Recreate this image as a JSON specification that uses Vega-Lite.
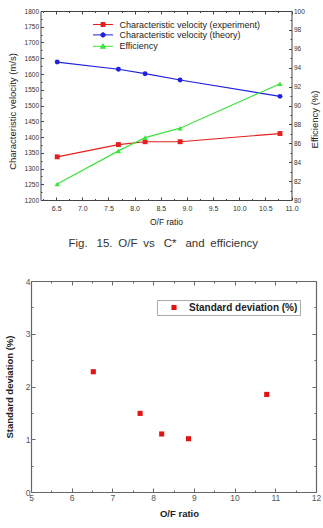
{
  "$schema": "https://vega.github.io/schema/vega-lite/v6.json",
  "background": "white",
  "padding": {"left": 4, "top": 8, "right": 0, "bottom": 0},
  "config": {
    "view": {"stroke": null},
    "font": "Liberation Sans",
    "axis": {"grid": false, "domainColor": "#444", "tickColor": "#444", "labelColor": "#333", "titleColor": "#222", "titleFontWeight": "normal", "labelOverlap": false, "labelFlush": false}
  },
  "datasets": {
    "performance": [
      {"of": 6.52, "series": "Characteristic velocity (experiment)", "value": 1337},
      {"of": 7.69, "series": "Characteristic velocity (experiment)", "value": 1376},
      {"of": 8.2, "series": "Characteristic velocity (experiment)", "value": 1385},
      {"of": 8.87, "series": "Characteristic velocity (experiment)", "value": 1385},
      {"of": 10.78, "series": "Characteristic velocity (experiment)", "value": 1411},
      {"of": 6.52, "series": "Characteristic velocity (theory)", "value": 1638},
      {"of": 7.69, "series": "Characteristic velocity (theory)", "value": 1615},
      {"of": 8.2, "series": "Characteristic velocity (theory)", "value": 1601},
      {"of": 8.87, "series": "Characteristic velocity (theory)", "value": 1581},
      {"of": 10.78, "series": "Characteristic velocity (theory)", "value": 1529},
      {"of": 6.52, "series": "Efficiency", "value": 81.7},
      {"of": 7.69, "series": "Efficiency", "value": 85.2},
      {"of": 8.2, "series": "Efficiency", "value": 86.6},
      {"of": 8.87, "series": "Efficiency", "value": 87.6},
      {"of": 10.78, "series": "Efficiency", "value": 92.3}
    ],
    "deviation": [
      {"of": 6.53, "sd": 2.28, "label": "Standard deviation (%)"},
      {"of": 7.68, "sd": 1.49, "label": "Standard deviation (%)"},
      {"of": 8.21, "sd": 1.1, "label": "Standard deviation (%)"},
      {"of": 8.87, "sd": 1.01, "label": "Standard deviation (%)"},
      {"of": 10.79, "sd": 1.85, "label": "Standard deviation (%)"}
    ]
  },
  "columns": 1,
  "spacing": 27,
  "resolve": {
    "scale": {"color": "independent", "shape": "independent"},
    "legend": {"color": "independent", "shape": "independent"}
  },
  "concat": [
    {
      "width": 260.5,
      "height": 189,
      "data": {"name": "performance"},
      "title": {
        "text": "Fig.\u2002 15.\u2002O/F\u2002vs\u2002 C*\u2002 and\u2002efficiency",
        "orient": "bottom",
        "anchor": "middle",
        "fontSize": 11.5,
        "fontWeight": "normal",
        "color": "#333",
        "offset": 12,
        "dx": 2
      },
      "layer": [
        {
          "transform": [{"filter": "datum.series !== 'Efficiency'"}],
          "encoding": {
            "x": {
              "field": "of", "type": "quantitative",
              "scale": {"domain": [6.2, 11.0], "range": [9.5, 260.5], "nice": false, "zero": false},
              "axis": {
                "orient": "bottom", "title": "O/F ratio", "titleFontSize": 8.5, "titlePadding": 5,
                "values": [6.25, 6.5, 6.75, 7, 7.25, 7.5, 7.75, 8, 8.25, 8.5, 8.75, 9, 9.25, 9.5, 9.75, 10, 10.25, 10.5, 10.75, 11],
                "labelExpr": "(datum.value * 2) % 1 ? '' : format(datum.value, '.1f')",
                "labelFontSize": 7, "labelPadding": 7,
                "tickSize": {"condition": {"test": "(datum.value * 2) % 1", "value": -1.5}, "value": -3}
              }
            },
            "y": {
              "field": "value", "type": "quantitative",
              "scale": {"domain": [1200, 1800], "nice": false, "zero": false},
              "axis": {
                "offset": -9.5,
                "title": "Characteristic velocity (m/s)", "titleFontSize": 9.5, "titlePadding": 7, "titleY": 100,
                "values": [1200, 1225, 1250, 1275, 1300, 1325, 1350, 1375, 1400, 1425, 1450, 1475, 1500, 1525, 1550, 1575, 1600, 1625, 1650, 1675, 1700, 1725, 1750, 1775, 1800],
                "labelExpr": "datum.value % 50 ? '' : format(datum.value, 'd')",
                "labelFontSize": 6.5, "labelPadding": 5,
                "tickSize": {"condition": {"test": "datum.value % 50", "value": -1.5}, "value": -3}
              }
            },
            "color": {
              "field": "series", "type": "nominal",
              "scale": {
                "domain": ["Characteristic velocity (experiment)", "Characteristic velocity (theory)", "Efficiency"],
                "range": ["#e61e1e", "#2020e0", "#3ee23e"]
              },
              "legend": {
                "orient": "none", "legendX": 67.5, "legendY": 9, "title": null,
                "padding": 0, "symbolSize": 16, "labelOffset": 12, "rowPadding": 0.4,
                "labelFontSize": 9, "labelColor": "#222",
                "encode": {
                  "symbols": {
                    "update": {
                      "shape": {"signal": "datum.value === 'Characteristic velocity (experiment)' ? 'M-5,0H5M-1,-1H1V1H-1Z' : datum.value === 'Characteristic velocity (theory)' ? 'M-5,0H5M1.1,0A1.1,1.1 0 1,1 -1.1,0A1.1,1.1 0 1,1 1.1,0Z' : 'M-5,0H5M0,-1.3L1.3,1H-1.3Z'"},
                      "fill": {"signal": "datum.value === 'Characteristic velocity (experiment)' ? '#e61e1e' : datum.value === 'Characteristic velocity (theory)' ? '#2020e0' : '#3ee23e'"},
                      "stroke": {"signal": "datum.value === 'Characteristic velocity (experiment)' ? '#e61e1e' : datum.value === 'Characteristic velocity (theory)' ? '#2020e0' : '#3ee23e'"},
                      "strokeWidth": {"value": 1},
                      "opacity": {"value": 1}
                    }
                  }
                }
              }
            }
          },
          "layer": [
            {"mark": {"type": "line", "strokeWidth": 1.2}},
            {
              "mark": {"type": "point", "filled": true, "opacity": 1, "size": 24},
              "encoding": {
                "shape": {
                  "field": "series", "type": "nominal",
                  "scale": {"domain": ["Characteristic velocity (experiment)", "Characteristic velocity (theory)"], "range": ["square", "circle"]},
                  "legend": null
                }
              }
            }
          ]
        },
        {
          "transform": [{"filter": "datum.series === 'Efficiency'"}],
          "encoding": {
            "x": {
              "field": "of", "type": "quantitative",
              "axis": {
                "orient": "top", "title": null, "labels": false,
                "values": [6.25, 6.5, 6.75, 7, 7.25, 7.5, 7.75, 8, 8.25, 8.5, 8.75, 9, 9.25, 9.5, 9.75, 10, 10.25, 10.5, 10.75, 11],
                "tickSize": {"condition": {"test": "(datum.value * 2) % 1", "value": -1.5}, "value": -3}
              }
            },
            "y": {
              "field": "value", "type": "quantitative",
              "scale": {"domain": [80, 100], "nice": false, "zero": false},
              "axis": {
                "orient": "right", "title": "Efficiency (%)", "titleFontSize": 9.5, "titleAngle": -90, "titleBaseline": "top", "titlePadding": 5, "titleY": 108,
                "values": [80, 81, 82, 83, 84, 85, 86, 87, 88, 89, 90, 91, 92, 93, 94, 95, 96, 97, 98, 99, 100],
                "labelExpr": "datum.value % 2 ? '' : format(datum.value, 'd')",
                "labelFontSize": 6.5, "labelPadding": 5,
                "tickSize": {"condition": {"test": "datum.value % 2", "value": -1.5}, "value": -3}
              }
            },
            "color": {"field": "series", "type": "nominal"}
          },
          "layer": [
            {"mark": {"type": "line", "strokeWidth": 1.2}},
            {"mark": {"type": "point", "filled": true, "opacity": 1, "size": 28, "shape": "triangle-up"}}
          ]
        }
      ],
      "resolve": {"scale": {"y": "independent"}, "axis": {"x": "independent"}}
    },
    {
      "width": 285,
      "height": 211,
      "data": {"name": "deviation"},
      "layer": [
        {
          "mark": {"type": "point", "filled": true, "opacity": 1, "size": 26, "color": "#e01414"},
          "encoding": {
            "x": {
              "field": "of", "type": "quantitative",
              "scale": {"domain": [5, 12], "nice": false, "zero": false},
              "axis": {
                "title": "O/F ratio", "titleFontSize": 9.5, "titleFontWeight": "bold", "titlePadding": 5, "titleX": 148,
                "values": [5, 5.5, 6, 6.5, 7, 7.5, 8, 8.5, 9, 9.5, 10, 10.5, 11, 11.5, 12],
                "labelExpr": "datum.value % 1 ? '' : format(datum.value, 'd')",
                "labelFontSize": 8.5, "labelColor": "#555", "labelPadding": 5,
                "domainColor": "#666", "tickColor": "#666", "domainWidth": 1.2,
                "tickSize": {"condition": {"test": "datum.value % 1", "value": -2}, "value": -4}
              }
            },
            "y": {
              "field": "sd", "type": "quantitative",
              "scale": {"domain": [0, 4], "nice": false, "zero": false},
              "axis": {
                "title": "Standard deviation (%)", "titleFontSize": 9.5, "titleFontWeight": "bold", "titlePadding": 10.5,
                "values": [0, 0.5, 1, 1.5, 2, 2.5, 3, 3.5, 4],
                "labelExpr": "datum.value % 1 ? '' : format(datum.value, 'd')",
                "labelFontSize": 8.5, "labelColor": "#555", "labelPadding": 5,
                "domainColor": "#666", "tickColor": "#666", "domainWidth": 1.2,
                "tickSize": {"condition": {"test": "datum.value % 1", "value": -2}, "value": -4}
              }
            },
            "shape": {
              "field": "label", "type": "nominal",
              "scale": {"range": ["square"]},
              "legend": {
                "orient": "none", "legendX": 126, "legendY": 19, "title": null,
                "padding": 2.5, "strokeColor": "#aaa", "fillColor": "white",
                "symbolSize": 26, "symbolOffset": 9.5, "labelOffset": 10,
                "symbolFillColor": "#e01414", "symbolStrokeWidth": 0,
                "labelFontSize": 10, "labelFontWeight": "bold", "labelColor": "#222"
              }
            }
          }
        },
        {
          "mark": {"type": "point", "opacity": 0},
          "encoding": {
            "x": {
              "field": "of", "type": "quantitative",
              "axis": {
                "orient": "top", "title": null, "labels": false,
                "values": [5, 5.5, 6, 6.5, 7, 7.5, 8, 8.5, 9, 9.5, 10, 10.5, 11, 11.5, 12],
                "domainColor": "#666", "tickColor": "#666", "domainWidth": 1.2,
                "tickSize": {"condition": {"test": "datum.value % 1", "value": -2}, "value": -4}
              }
            },
            "y": {
              "field": "sd", "type": "quantitative",
              "axis": {
                "orient": "right", "title": null, "labels": false,
                "values": [0, 0.5, 1, 1.5, 2, 2.5, 3, 3.5, 4],
                "domainColor": "#666", "tickColor": "#666", "domainWidth": 1.2,
                "tickSize": {"condition": {"test": "datum.value % 1", "value": -2}, "value": -4}
              }
            }
          }
        }
      ],
      "resolve": {"axis": {"x": "independent", "y": "independent"}}
    }
  ]
}
